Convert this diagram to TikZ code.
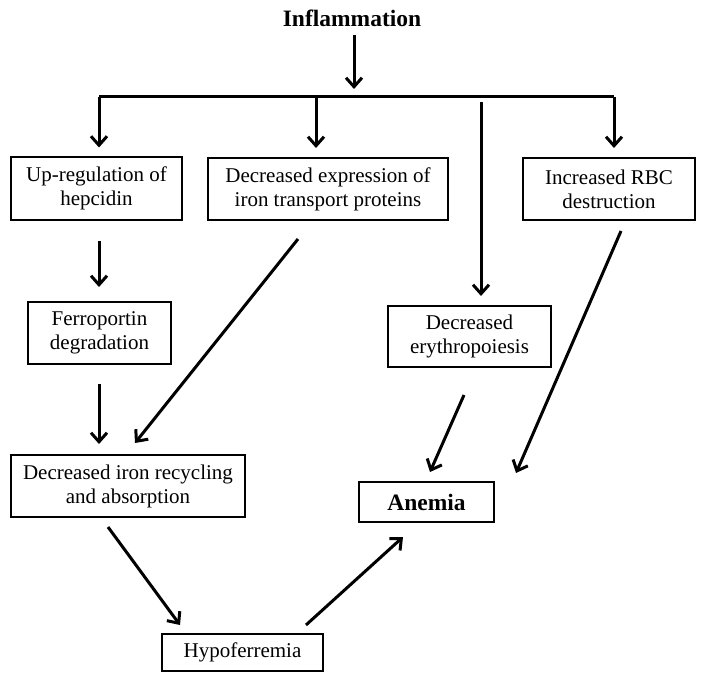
\documentclass[tikz,border=0pt]{standalone}
\usepackage{fontspec}
\setmainfont{Liberation Serif}
\usetikzlibrary{arrows.meta}
\begin{document}
\begin{tikzpicture}[x=1pt,y=-1pt,
  box/.style={draw,line width=2pt,inner sep=0pt,align=center,font=\fontsize{21}{24}\selectfont},
  arr/.style={line width=3pt,-{Straight Barb[length=9pt,width=16pt]}},
  ln/.style={line width=3pt}]
\useasboundingbox (0,0) rectangle (704,682);
\node[font=\bfseries\fontsize{23.5}{26}\selectfont] (infl) at (352,18) {Inflammation};
\node[box,minimum width=171pt,minimum height=62pt] (hep) at (96.5,188.5) {Up-regulation of\\hepcidin};
\node[box,minimum width=240pt,minimum height=62pt] (dex) at (328,189) {Decreased expression of\\iron transport proteins};
\node[box,minimum width=172pt,minimum height=62pt] (rbc) at (609,189) {Increased RBC\\destruction};
\node[box,minimum width=143pt,minimum height=62pt] (fer) at (99.5,333) {Ferroportin\\degradation};
\node[box,minimum width=163pt,minimum height=61pt] (ery) at (469.5,336.5) {Decreased\\erythropoiesis};
\node[box,minimum width=234pt,minimum height=62pt] (dir) at (128,486) {Decreased iron recycling\\and absorption};
\node[box,minimum width=135pt,minimum height=40pt,font=\bfseries\fontsize{23.5}{26}\selectfont] (ane) at (426.5,502) {Anemia};
\node[box,minimum width=161pt,minimum height=37pt] (hyp) at (242.5,652.5) {Hypoferremia};
% bar
\coordinate (bl) at (99,97);
\coordinate (br) at (614,97);
\coordinate (b2) at (316,97);
\coordinate (mtop) at (481,102);
\coordinate (it) at (354,35);
\coordinate (ib) at (354,89);
\draw[arr] (it) -- (ib);
\draw[ln] (bl) -- (br);
\draw[arr,shorten >=9pt] (bl) -- (hep.north -| bl);
\draw[arr,shorten >=9pt] (b2) -- (dex.north -| b2);
\draw[arr,shorten >=9pt] (br) -- (rbc.north -| br);
\draw[arr,shorten >=9pt] (mtop) -- (ery.north -| mtop);
% left column
\draw[arr,shorten <=20pt,shorten >=14pt] (hep.south -| 99,0) -- (fer.north -| 99,0);
\draw[arr,shorten <=19pt,shorten >=10pt] (fer.south -| 99,0) -- (dir.north -| 99,0);
% diagonals
\coordinate (d1s) at (298,239);
\coordinate (d1e) at (135,443);
\draw[arr] (d1s) -- (d1e);
\coordinate (r1s) at (621,231);
\coordinate (r1e) at (516,473);
\draw[arr] (r1s) -- (r1e);
\coordinate (e1s) at (464,395);
\coordinate (e1e) at (430,472);
\draw[arr] (e1s) -- (e1e);
\coordinate (h1s) at (108,527);
\coordinate (h1e) at (180,625);
\draw[arr] (h1s) -- (h1e);
\coordinate (a1s) at (306,625);
\coordinate (a1e) at (403,537);
\draw[arr] (a1s) -- (a1e);
\end{tikzpicture}
\end{document}
